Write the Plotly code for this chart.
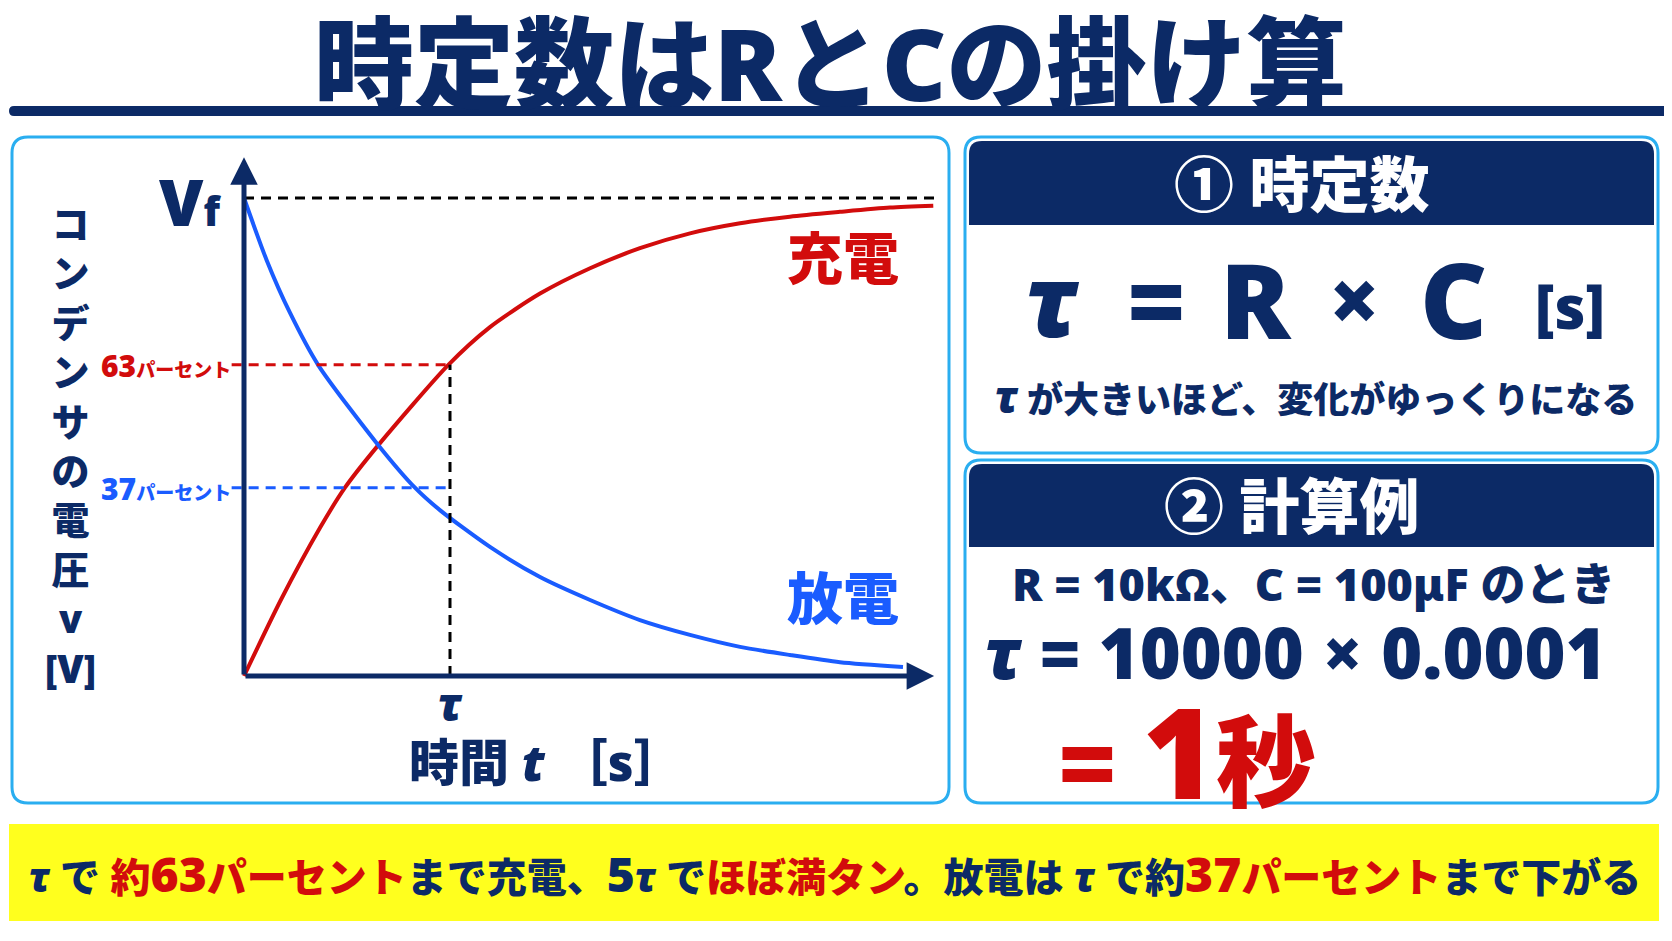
import plotly.graph_objects as go

# page is shown with the browser's default 8px body margin, so the figure is offset by 8px
OFF = 8
W, H = 1656, 925

# ---------------- data (in units of tau and Vf) ----------------
charge_t = [0, 0.18, 0.369, 0.49, 0.652, 0.992, 1.194, 1.437, 1.680, 1.922, 2.165, 2.408, 2.650, 2.893, 3.136, 3.346]
charge_v = [0, 0.16, 0.31, 0.394, 0.483, 0.651, 0.73, 0.80, 0.853, 0.895, 0.926, 0.947, 0.961, 0.971, 0.980, 0.984]
discharge_t = [0, 0.110, 0.223, 0.361, 0.652, 0.830, 0.951, 1.194, 1.437, 1.680, 1.922, 2.165, 2.408, 2.650, 2.893, 3.199]
discharge_v = [1.0, 0.87, 0.76, 0.650, 0.483, 0.394, 0.347, 0.270, 0.207, 0.159, 0.117, 0.086, 0.061, 0.044, 0.029, 0.019]
tau = 1.0
vf_level = 1.0
level_63 = 0.651
level_37 = 0.394
x_axis_end = 3.35
y_axis_end = 1.085

ylabel_chars = ["コ", "ン", "デ", "ン", "サ", "の", "電", "圧", "v", "[V]"]
title_text = "時定数はRとCの掛け算"

# ---------------- styles ----------------
NAVY = "#0c2a66"
RED = "#d20c0c"
BLUE = "#1a5cff"
BORDER = "#2aaef0"
YELLOW = "#ffff1e"
FONT = "Noto Sans, Noto Sans CJK JP"
WEIGHT = 900

X0, PXT = 244, 206      # page pixel of t=0, pixels per tau
Y0, PXV = 676, 478      # page pixel of v=0, pixels per Vf
xr = [-0.07, 3.42]
yr = [-0.02, 1.10]


def px(x):
    return (x - OFF) / W


def py(y):
    return 1 - (y - OFF) / H


def rrect(x0, y0, x1, y1, r, top_only=False):
    if top_only:
        return (f"M {px(x0)},{py(y1)} L {px(x0)},{py(y0 + r)} Q {px(x0)},{py(y0)} {px(x0 + r)},{py(y0)} "
                f"L {px(x1 - r)},{py(y0)} Q {px(x1)},{py(y0)} {px(x1)},{py(y0 + r)} L {px(x1)},{py(y1)} Z")
    return (f"M {px(x0 + r)},{py(y0)} L {px(x1 - r)},{py(y0)} Q {px(x1)},{py(y0)} {px(x1)},{py(y0 + r)} "
            f"L {px(x1)},{py(y1 - r)} Q {px(x1)},{py(y1)} {px(x1 - r)},{py(y1)} "
            f"L {px(x0 + r)},{py(y1)} Q {px(x0)},{py(y1)} {px(x0)},{py(y1 - r)} "
            f"L {px(x0)},{py(y0 + r)} Q {px(x0)},{py(y0)} {px(x0 + r)},{py(y0)} Z")


fig = go.Figure()

fig.add_trace(go.Scatter(x=charge_t, y=charge_v, mode="lines",
                         line=dict(color=RED, width=4, shape="spline", smoothing=0.7),
                         hoverinfo="skip"))
fig.add_trace(go.Scatter(x=discharge_t, y=discharge_v, mode="lines",
                         line=dict(color=BLUE, width=4, shape="spline", smoothing=0.7),
                         hoverinfo="skip"))

shapes = []
# title rule
shapes.append(dict(type="path", xref="paper", yref="paper", path=rrect(9, 106, 1668, 116, 5),
                   fillcolor=NAVY, line=dict(width=0), layer="below"))
# cards
for (a, b, c, d) in [(12, 137, 949, 803), (965, 137, 1658, 453), (965, 460, 1658, 803)]:
    shapes.append(dict(type="path", xref="paper", yref="paper", path=rrect(a, b, c, d, 16),
                       fillcolor="white", line=dict(color=BORDER, width=3), layer="below"))
# header bands
for (a, b, c, d) in [(969, 141, 1654, 225), (969, 464, 1654, 547)]:
    shapes.append(dict(type="path", xref="paper", yref="paper", path=rrect(a, b, c, d, 13, top_only=True),
                       fillcolor=NAVY, line=dict(width=0), layer="below"))
# banner
shapes.append(dict(type="rect", xref="paper", yref="paper", x0=px(9), x1=px(1659), y0=py(921), y1=py(824),
                   fillcolor=YELLOW, line=dict(width=0), layer="below"))

# dashed guide lines in data coordinates
shapes.append(dict(type="line", xref="x", yref="y", x0=0, x1=x_axis_end, y0=vf_level, y1=vf_level,
                   line=dict(color="black", width=3, dash="10px,7px")))
shapes.append(dict(type="line", xref="x", yref="y", x0=-0.06, x1=tau, y0=level_63, y1=level_63,
                   line=dict(color=RED, width=3, dash="10px,7px")))
shapes.append(dict(type="line", xref="x", yref="y", x0=-0.06, x1=tau, y0=level_37, y1=level_37,
                   line=dict(color=BLUE, width=3, dash="10px,7px")))
shapes.append(dict(type="line", xref="x", yref="y", x0=tau, x1=tau, y0=0, y1=level_63,
                   line=dict(color="black", width=3, dash="10px,7px")))

ann = []


def txt(x, y, text, size, color, xanchor="center", yanchor="middle"):
    ann.append(dict(xref="paper", yref="paper", x=px(x), y=py(y), text=text, showarrow=False,
                    font=dict(family=FONT, size=size, color=color, weight=WEIGHT),
                    xanchor=xanchor, yanchor=yanchor))


# axes arrows
ann.append(dict(x=0, y=y_axis_end, ax=0, ay=0, xref="x", yref="y", axref="x", ayref="y",
                showarrow=True, arrowhead=2, arrowsize=1.1, arrowwidth=5, arrowcolor=NAVY, text=""))
ann.append(dict(x=x_axis_end, y=0, ax=0, ay=0, xref="x", yref="y", axref="x", ayref="y",
                showarrow=True, arrowhead=2, arrowsize=1.1, arrowwidth=5, arrowcolor=NAVY, text=""))

# title
txt(830, 62, title_text, 100, NAVY)

# chart labels
txt(190, 202, "V<span style='font-size:40px'>f</span>", 64, NAVY)
txt(233, 365, "63<span style='font-size:19px'>パーセント</span>", 30, RED, xanchor="right")
txt(233, 488, "37<span style='font-size:19px'>パーセント</span>", 30, BLUE, xanchor="right")
txt(843, 257, "充電", 56, RED)
txt(843, 597, "放電", 56, BLUE)
txt(X0 + tau * PXT, 703, "<i>τ</i>", 46, NAVY)
txt(546, 762, "時間 <i>t</i> ［s］", 50, NAVY)
txt(70, 445, "<br>".join(ylabel_chars), 38, NAVY)

# right card 1
txt(1302, 184, "① 時定数", 60, "white")
formula_parts = [("<i>τ</i>", 1053, 100), ("=", 1156, 100), ("R", 1256, 104), ("×", 1354, 90),
                 ("C", 1454, 104), ("[s]", 1570, 60)]
for t, xc, s in formula_parts:
    txt(xc, 298 if t != "[s]" else 306, t, s, NAVY)
txt(1316, 396, "<span style='font-size:44px'><i>τ</i></span> が大きいほど、変化がゆっくりになる", 36, NAVY)

# right card 2
txt(1292, 506, "② 計算例", 60, "white")
txt(1313, 583, "R = 10kΩ、C = 100μF のとき", 45, NAVY)
txt(1295, 652, "<i>τ</i> = 10000 × 0.0001", 70, NAVY)
txt(1187, 750, "= <span style='font-size:125px'>1</span>秒", 100, RED)


# banner
def red(s):
    return f"<span style='color:{RED}'>{s}</span>"


def big(s):
    return f"<span style='font-size:48px'>{s}</span>"


banner = ("<i>τ</i> で " + red("約" + big("63") + "パーセント") + "まで充電、" + big("5") + "<i>τ</i> で"
          + red("ほぼ満タン") + "。放電は <i>τ</i> で約" + red(big("37") + "パーセント") + "まで下がる")
txt(835, 873, banner, 40, NAVY)

fig.update_layout(
    width=W, height=H, margin=dict(l=0, r=0, t=0, b=0),
    paper_bgcolor="white", plot_bgcolor="rgba(0,0,0,0)",
    showlegend=False, shapes=shapes, annotations=ann,
    xaxis=dict(range=xr, domain=[(X0 - OFF + xr[0] * PXT) / W, (X0 - OFF + xr[1] * PXT) / W],
               visible=False, fixedrange=True),
    yaxis=dict(range=yr, domain=[1 - (Y0 - OFF - yr[0] * PXV) / H, 1 - (Y0 - OFF - yr[1] * PXV) / H],
               visible=False, fixedrange=True),
)

fig.write_html("out.html")
